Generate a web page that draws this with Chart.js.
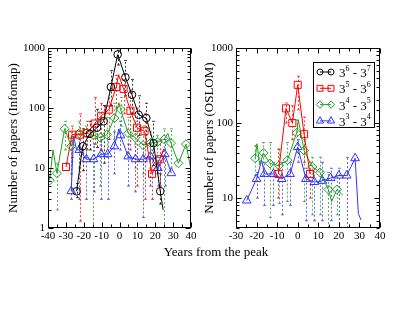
<!DOCTYPE html>
<html>
<head>
<meta charset="utf-8">
<script src="https://cdn.jsdelivr.net/npm/chart.js@4.4.1/dist/chart.umd.min.js"></script>
<style>
  body { margin: 0; background: #fff; }
  #wrap { position: relative; width: 415px; height: 321px; }
  #wrap canvas { position: absolute; left: 0; top: 0; }
  #xlab { position: absolute; left: 116px; width: 200px; top: 244px; text-align: center;
          font: 13px/15px "Liberation Serif", serif; color: #000; }
</style>
</head>
<body>
<div id="wrap">
  <canvas id="infomap" width="415" height="321"></canvas>
  <canvas id="oslom" width="415" height="321"></canvas>
  <div id="xlab">Years from the peak</div>
</div>
<script>
const FONT = "Liberation Serif";

// series names, colours and symbols (same for both panels)
const seriesNames = ["3^6 - 3^7", "3^5 - 3^6", "3^4 - 3^5", "3^3 - 3^4"];
const seriesColors = ["#000000", "#ff0000", "#22a022", "#3333ff"];
const seriesStyles = ["circle", "rect", "rectRot", "triangle"];
const seriesRadius = [3.8, 5, 4.5, 5];

// tick labels
const imTicksX = [-40, -30, -20, -10, 0, 10, 20, 30, 40];
const osTicksX = [-30, -20, -10, 0, 10, 20, 30, 40];
const yLabels = [1, 10, 100, 1000];

// ---- Infomap panel: x = years from peak, y = papers, m = symbol shown, lo/hi = error bar
const imBlackX  = [-24, -20.6, -16.6, -12.6, -8.9, -4.8, -1, 3.3, 7, 10.7, 15, 19, 22.8, 24.4];
const imBlackY  = [4.1, 23, 37, 47, 60, 224, 780, 325, 166, 77, 68, 26, 4.1, 2];
const imBlackM  = [1, 1, 1, 1, 1, 1, 1, 1, 1, 1, 1, 1, 1, 0];
const imBlackLo = [3.2, 9, 20, 22, 12, 110, 520, 160, 80, 35, 25, 11, 2.5, null];
const imBlackHi = [5.5, 45, 60, 95, 110, 420, 920, 620, 300, 160, 120, 60, 8, null];

const imRedX  = [-29.9, -26.6, -22.3, -18, -13.9, -10.2, -6, -1.8, -0.5, 2.3, 6.1, 9.8, 14, 18.2, 22.5, 24.8];
const imRedY  = [10.4, 36, 36, 38, 55, 74, 94, 224, 360, 208, 90, 47, 41, 8, 14, 21];
const imRedM  = [1, 1, 1, 1, 1, 1, 1, 1, 0, 1, 1, 1, 1, 1, 1, 0];
const imRedLo = [null, 15, 1.3, 20, 25, 20, 30, 100, null, 80, 20, 5, 3, 3, 5, null];
const imRedHi = [null, 50, 80, 60, 150, 120, 200, 350, null, 300, 200, 100, 80, 20, 30, null];

const imGreenX  = [-39.1, -37.2, -35, -30.7, -27, -25, -22.5, -18.5, -14.6, -10.7, -7, -2.9, -0.3, 0.6, 4.8, 8.9, 13.2, 17.3, 21.2, 25, 27, 28.8, 33, 37.2, 40];
const imGreenY  = [6.2, 20, 8.2, 45, 23, 35, 38, 38, 35, 32, 36, 68, 122, 95, 38, 32, 24, 26, 27, 30, 38, 26, 12, 25, 9.4];
const imGreenM  = [1, 0, 1, 1, 1, 0, 1, 1, 1, 1, 1, 1, 0, 1, 1, 1, 1, 1, 1, 1, 0, 1, 1, 1, 0];
const imGreenLo = [null, null, 2, 20, 8, null, 10, 15, 1, 5, 15, 30, null, 50, 15, 10, 8, 10, 8, 1, null, 10, null, null, null];
const imGreenHi = [null, null, 12, 60, 40, null, 60, 50, 40, 80, 70, 120, null, 150, 70, 60, 50, 40, 35, 45, null, 45, null, null, null];

const imBlueX  = [-27, -25.7, -24, -22.5, -18.5, -14.5, -10.2, -6.6, -2.9, -0.3, 0.5, 4.8, 8.9, 13.2, 17.3, 21.5, 25.3, 29];
const imBlueY  = [4.1, 34, 20, 20, 14, 14, 17, 17, 23, 45, 35, 15.6, 14, 14, 15.6, 10, 17, 8.2];
const imBlueM  = [1, 0, 0, 1, 1, 1, 1, 1, 1, 0, 1, 1, 1, 1, 1, 1, 1, 1];
const imBlueLo = [3, null, null, 3, 3, 4, 3, 3, 8, null, 20, 5, 4, 1.5, 5, 5, 5, null];
const imBlueHi = [20, null, null, 30, 25, 25, 30, 30, 40, null, 60, 25, 25, 25, 25, 15, 30, null];

// ---- OSLOM panel (no 3^6 - 3^7 communities)
const osBlackX = [], osBlackY = [], osBlackM = [], osBlackLo = [], osBlackHi = [];

const osRedX  = [-9.4, -5.7, -2.6, 0, 3.1, 6];
const osRedY  = [21, 157, 100, 323, 71, 21];
const osRedM  = [1, 1, 1, 1, 1, 1];
const osRedLo = [10, 100, 60, 150, 30, 10];
const osRedHi = [45, 185, 170, 420, 120, 30];

const osGreenX  = [-20.7, -19.8, -18.5, -16.7, -13.5, -9.1, -5, -0.5, 0.3, 3.1, 7.1, 10.9, 14.9, 16.5, 19, 21.9];
const osGreenY  = [34, 53, 28, 40, 29, 27, 32, 74, 110, 43, 26, 22, 13, 9, 13, 11];
const osGreenM  = [1, 0, 0, 1, 1, 1, 1, 1, 0, 1, 1, 1, 1, 0, 1, 0];
const osGreenLo = [20, null, null, 20, 5.5, 8.5, 9, 40, null, 9, 6, 6, 4, null, 6, null];
const osGreenHi = [50, null, null, 55, 55, 45, 55, 110, null, 60, 35, 35, 22, null, 20, null];

const osBlueX  = [-24.8, -20, -17.5, -16.2, -11.8, -7.8, -3.7, 0, 4, 8.1, 12, 16, 20, 23.8, 27.9, 29.5, 30.8];
const osBlueY  = [9.3, 18, 32, 21, 21, 18, 21, 48, 18, 16.4, 17, 18.5, 20, 20, 34, 6.2, 5.1];
const osBlueM  = [1, 1, 0, 1, 1, 1, 1, 1, 1, 1, 1, 1, 1, 1, 1, 0, 0];
const osBlueLo = [null, 10, null, 8, 8, 6, 8, 30, 5, 5, 5, 5, 4, 4, null, null, null];
const osBlueHi = [null, 22, null, 30, 30, 30, 30, 60, 25, 25, 30, 25, 25, 35, null, null, null];

function makeSet(i, X, Y, M, Lo, Hi) {
  return {
    label: seriesNames[i],
    data: X.map((x, k) => ({ x: x, y: Y[k] })),
    borderColor: seriesColors[i],
    backgroundColor: "rgba(0,0,0,0)",
    borderWidth: 1,
    pointStyle: seriesStyles[i],
    pointRadius: c => (M[c.dataIndex] ? seriesRadius[i] : 0),
    pointHoverRadius: 0,
    pointBorderWidth: 1,
    pointBackgroundColor: "rgba(0,0,0,0)",
    tension: 0,
    fill: false,
    errLo: Lo,
    errHi: Hi
  };
}

// dashed vertical error bars with small caps
const errorBars = {
  id: "errorBars",
  beforeDatasetsDraw(chart) {
    const { ctx, chartArea: a, scales: { x, y } } = chart;
    ctx.save();
    ctx.beginPath();
    ctx.rect(a.left, a.top, a.right - a.left, a.bottom - a.top);
    ctx.clip();
    ctx.lineWidth = 1;
    ctx.setLineDash([2, 2]);
    ctx.globalAlpha = 0.75;
    chart.data.datasets.forEach(ds => {
      ctx.strokeStyle = ds.borderColor;
      ds.data.forEach((p, k) => {
        const lo = ds.errLo[k], hi = ds.errHi[k];
        if (lo == null) return;
        const px = Math.round(x.getPixelForValue(p.x)) + 0.5;
        const y0 = y.getPixelForValue(Math.max(lo, y.min));
        const y1 = y.getPixelForValue(hi);
        ctx.beginPath();
        ctx.moveTo(px, y0);
        ctx.lineTo(px, y1);
        ctx.stroke();
        ctx.setLineDash([]);
        ctx.beginPath();
        ctx.moveTo(px - 1.5, y1); ctx.lineTo(px + 1.5, y1);
        if (lo > y.min) { ctx.moveTo(px - 1.5, y0); ctx.lineTo(px + 1.5, y0); }
        ctx.stroke();
        ctx.setLineDash([2, 2]);
      });
    });
    ctx.restore();
  }
};

// box round the plot with inward ticks on all four sides
const frame = {
  id: "frame",
  afterDraw(chart) {
    const { ctx, chartArea: a, scales: { x, y } } = chart;
    const L = Math.round(a.left) + 0.5, R = Math.round(a.right) - 0.5;
    const T = Math.round(a.top) + 0.5, B = Math.round(a.bottom) - 0.5;
    ctx.save();
    ctx.strokeStyle = "#000";
    ctx.lineWidth = 1;
    ctx.strokeRect(L, T, R - L, B - T);
    ctx.beginPath();
    const xt = x.ticks.map(t => t.value);
    const xTick = (v, len) => {
      const px = Math.round(x.getPixelForValue(v)) + 0.5;
      ctx.moveTo(px, B); ctx.lineTo(px, B - len);
      ctx.moveTo(px, T); ctx.lineTo(px, T + len);
    };
    xt.forEach((v, k) => {
      xTick(v, 5);
      if (k < xt.length - 1) xTick((v + xt[k + 1]) / 2, 3);
    });
    y.ticks.forEach(t => {
      const lg = Math.log10(t.value);
      const major = Math.abs(lg - Math.round(lg)) < 1e-6;
      const len = major ? 5 : 3;
      const py = Math.round(y.getPixelForValue(t.value)) + 0.5;
      ctx.moveTo(L, py); ctx.lineTo(L + len, py);
      ctx.moveTo(R, py); ctx.lineTo(R - len, py);
    });
    ctx.stroke();
    ctx.restore();
  }
};

// boxed legend inside the OSLOM panel, with superscript exponents
const legendBox = {
  id: "legendBox",
  afterDraw(chart) {
    const { ctx, chartArea: a } = chart;
    const left = Math.round(a.right) - 67, top = Math.round(a.top) + 14;
    ctx.save();
    ctx.strokeStyle = "#000";
    ctx.lineWidth = 1;
    ctx.strokeRect(left + 0.5, top + 0.5, 61, 65);
    chart.data.datasets.forEach((ds, i) => {
      const ry = top + 10 + i * 16.3;
      const x0 = left + 7, x1 = left + 18;
      ctx.strokeStyle = ds.borderColor;
      ctx.fillStyle = "rgba(0,0,0,0)";
      ctx.beginPath();
      ctx.moveTo(x0, ry); ctx.lineTo(x1, ry);
      ctx.stroke();
      [x0, x1].forEach(px => Chart.helpers.drawPoint(ctx,
        { pointStyle: ds.pointStyle, rotation: 0, radius: seriesRadius[i] - 0.8, borderWidth: 1 }, px, ry));
      ctx.fillStyle = "#000";
      ctx.textBaseline = "alphabetic";
      ctx.textAlign = "left";
      let tx = left + 26;
      ds.label.split(/(\^\d)/).forEach(part => {
        if (!part) return;
        if (part[0] === "^") {
          ctx.font = "8px " + FONT;
          ctx.fillText(part.slice(1), tx, ry - 1.5);
          tx += ctx.measureText(part.slice(1)).width;
        } else {
          ctx.font = "13px " + FONT;
          ctx.fillText(part, tx, ry + 5);
          tx += ctx.measureText(part).width;
        }
      });
    });
    ctx.restore();
  }
};

function makeOptions(xMin, xMax, xTicks, yMin, yTitle, padLeft, padRight, yWidth) {
  return {
    responsive: false,
    animation: false,
    events: [],
    layout: { padding: { left: padLeft, right: padRight, top: 48, bottom: 73 } },
    plugins: { legend: { display: false }, tooltip: { enabled: false } },
    scales: {
      x: {
        type: "linear",
        min: xMin,
        max: xMax,
        afterBuildTicks: s => { s.ticks = xTicks.map(v => ({ value: v })); },
        afterFit: s => { s.height = 20; },
        grid: { display: false, drawTicks: false },
        border: { display: false },
        ticks: { color: "#000", font: { family: FONT, size: 11 }, padding: 2, maxRotation: 0, autoSkip: false }
      },
      y: {
        type: "logarithmic",
        min: yMin,
        max: 1000,
        afterFit: s => { s.width = yWidth; },
        grid: { display: false, drawTicks: false },
        border: { display: false },
        title: { display: true, text: yTitle, color: "#000", font: { family: FONT, size: 13 }, padding: { top: 6, bottom: 0 } },
        ticks: {
          color: "#000",
          font: { family: FONT, size: 11 },
          padding: 3,
          autoSkip: false,
          callback: v => (yLabels.some(l => Math.abs(l - v) < 1e-6) ? String(v) : "")
        }
      }
    }
  };
}

new Chart(document.getElementById("infomap"), {
  type: "line",
  data: {
    datasets: [
      makeSet(0, imBlackX, imBlackY, imBlackM, imBlackLo, imBlackHi),
      makeSet(1, imRedX, imRedY, imRedM, imRedLo, imRedHi),
      makeSet(2, imGreenX, imGreenY, imGreenM, imGreenLo, imGreenHi),
      makeSet(3, imBlueX, imBlueY, imBlueM, imBlueLo, imBlueHi)
    ]
  },
  options: makeOptions(-40, 40, imTicksX, 1, "Number of papers (Infomap)", 0, 224, 48),
  plugins: [errorBars, frame]
});

new Chart(document.getElementById("oslom"), {
  type: "line",
  data: {
    datasets: [
      makeSet(0, osBlackX, osBlackY, osBlackM, osBlackLo, osBlackHi),
      makeSet(1, osRedX, osRedY, osRedM, osRedLo, osRedHi),
      makeSet(2, osGreenX, osGreenY, osGreenM, osGreenLo, osGreenHi),
      makeSet(3, osBlueX, osBlueY, osBlueM, osBlueLo, osBlueHi)
    ]
  },
  options: makeOptions(-30, 40, osTicksX, 4, "Number of papers (OSLOM)", 196, 35, 40),
  plugins: [errorBars, frame, legendBox]
});
</script>
</body>
</html>
